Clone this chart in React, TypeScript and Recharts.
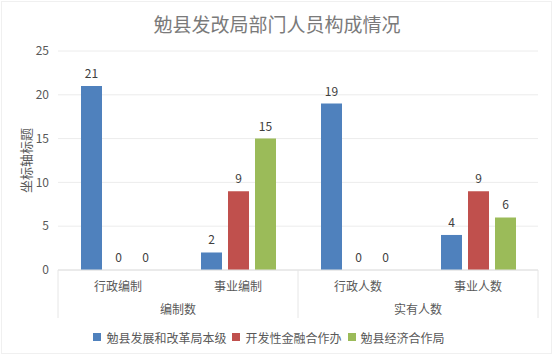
import React from 'react';
import { BarChart, Bar, XAxis, YAxis, CartesianGrid, Legend, LabelList, Label } from 'recharts';

const categories = ['行政编制', '事业编制', '行政人数', '事业人数'];
const groups = ['编制数', '实有人数'];
const seriesNames = ['勉县发展和改革局本级', '开发性金融合作办', '勉县经济合作局'];
const benji = [21, 2, 19, 4];
const jinrong = [0, 9, 0, 9];
const jingji = [0, 15, 0, 6];
const yTicks = [0, 5, 10, 15, 20, 25];
const colors = ['#4f81bd', '#c0504d', '#9bbb59'];

const data = categories.map((c, i) => ({
  cat: c,
  s0: benji[i],
  s1: jinrong[i],
  s2: jingji[i],
}));

const FONT = '"Noto Sans CJK SC", "Noto Sans", sans-serif';
const TXT = '#595959';

const CatTick = (props: any) => {
  const { x, y, payload, index } = props;
  const half = payload && payload.offset ? payload.offset : 60;
  const sep = '#e6e6e6';
  return (
    <g>
      <text x={x} y={y + 15} textAnchor="middle" dominantBaseline="central" fill={TXT} fontSize={12} fontFamily={FONT}>
        {payload.value}
      </text>
      {index % 2 === 0 && (
        <>
          <text x={x + half} y={y + 38} textAnchor="middle" dominantBaseline="central" fill={TXT} fontSize={12} fontFamily={FONT}>
            {groups[index / 2]}
          </text>
          <line x1={x - half} x2={x - half} y1={y} y2={y + 48} stroke={sep} />
        </>
      )}
      {index === categories.length - 1 && <line x1={x + half} x2={x + half} y1={y} y2={y + 48} stroke={sep} />}
    </g>
  );
};

const LegendContent = () => (
  <div style={{ display: 'flex', justifyContent: 'center', alignItems: 'center', fontFamily: FONT, fontSize: 12, color: TXT, height: 18 }}>
    {seriesNames.map((n, i) => (
      <div key={n} style={{ display: 'flex', alignItems: 'center', marginRight: i < seriesNames.length - 1 ? 6 : 0 }}>
        <span style={{ display: 'inline-block', width: 8, height: 8, background: colors[i], marginRight: 5 }} />
        <span>{n}</span>
      </div>
    ))}
  </div>
);

export default function App() {
  return (
    <div style={{ position: 'fixed', left: 0, top: 0, width: 554, height: 356, background: '#fff' }}>
      <div style={{ position: 'absolute', left: 1, top: 1, width: 551, height: 353, border: '1px solid #f0f0f0', boxSizing: 'border-box' }} />
      <div style={{ position: 'absolute', left: 0, top: 10, width: 554, textAlign: 'center', fontFamily: FONT, fontSize: 19, color: '#7a7a7a' }}>
        勉县发改局部门人员构成情况
      </div>
      <div style={{ position: 'absolute', left: 0, top: 0 }}>
        <BarChart
          width={554}
          height={356}
          data={data}
          margin={{ top: 51, right: 16, bottom: 10, left: 0 }}
          barSize={21}
          barGap={6}
        >
          <CartesianGrid vertical={false} stroke="#ececec" />
          <XAxis
            dataKey="cat"
            interval={0}
            axisLine={{ stroke: '#e0e0e0' }}
            tickLine={false}
            tickSize={0}
            tickMargin={0}
            height={58}
            tick={<CatTick />}
          />
          <YAxis
            domain={[0, 25]}
            ticks={yTicks}
            axisLine={false}
            tickLine={false}
            tickSize={0}
            tickMargin={9}
            width={58}
            tick={{ fill: TXT, fontSize: 12, fontFamily: FONT }}
          >
            <Label
              content={(p: any) => {
                const vb = p.viewBox || { x: 0, y: 51, height: 219 };
                const cx = 25;
                const cy = vb.y + vb.height / 2;
                return (
                  <text x={cx} y={cy} transform={`rotate(-90 ${cx} ${cy})`} textAnchor="middle" dominantBaseline="central" fill={TXT} fontSize={13} fontFamily={FONT}>
                    坐标轴标题
                  </text>
                );
              }}
            />
          </YAxis>
          <Legend verticalAlign="bottom" height={18} content={<LegendContent />} />
          {['s0', 's1', 's2'].map((k, i) => (
            <Bar key={k} dataKey={k} name={seriesNames[i]} fill={colors[i]} isAnimationActive={false} minPointSize={0.01}>
              <LabelList dataKey={k} position="top" offset={8} fill="#404040" fontSize={12} fontFamily={FONT} />
            </Bar>
          ))}
        </BarChart>
      </div>
    </div>
  );
}
